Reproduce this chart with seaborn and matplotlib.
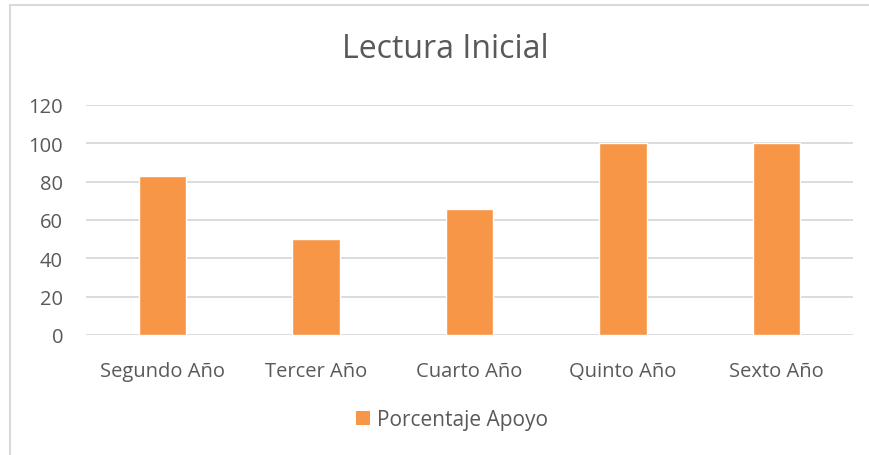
import matplotlib.pyplot as plt
import seaborn as sns
import pandas as pd
from matplotlib.lines import Line2D
from matplotlib.patches import Patch

# Daten
categories = ["Segundo Año", "Tercer Año", "Cuarto Año", "Quinto Año", "Sexto Año"]
values = [83, 50, 66, 100, 100]
y_ticks = [0, 20, 40, 60, 80, 100, 120]
series_name = "Porcentaje Apoyo"
title = "Lectura Inicial"

BAR_COLOR = "#F79646"
TEXT_COLOR = "#595959"
GRID_COLOR = "#D9D9D9"

sns.set_style("white")
plt.rcParams["font.family"] = ["Open Sans", "DejaVu Sans"]

W, H = 870, 456
fig = plt.figure(figsize=(W / 100, H / 100), dpi=100)
ax = fig.add_axes([86 / W, 1 - 336 / H, (853 - 86) / W, (336 - 106) / H])

df = pd.DataFrame({"Año": categories, "Valor": values})
sns.barplot(data=df, x="Año", y="Valor", color=BAR_COLOR, width=0.31,
            saturation=1, ax=ax)

ax.set_ylim(0, 120)
ax.set_yticks(y_ticks)
ax.set_xlim(-0.5, len(categories) - 0.5)
ax.yaxis.grid(True, color=GRID_COLOR, linewidth=1.3)
ax.set_axisbelow(True)
for s in ax.spines.values():
    s.set_visible(False)
ax.tick_params(axis="both", length=0, labelsize=14.5, colors=TEXT_COLOR)
ax.tick_params(axis="x", pad=19)
ax.tick_params(axis="y", pad=16.5)
ax.set_xlabel("")
ax.set_ylabel("")

fig.text(445 / W, 1 - 50 / H, title, ha="center", va="center",
         fontsize=23, color=TEXT_COLOR)

# Legende
handle = Patch(facecolor=BAR_COLOR, edgecolor="none")
fig.legend([handle], [series_name], loc="center",
           bbox_to_anchor=(452 / W, 1 - 421 / H), frameon=False,
           fontsize=15, labelcolor=TEXT_COLOR, handlelength=0.65,
           handleheight=0.65, handletextpad=0.35)

# Rahmen (nur links und oben sichtbar)
fig.add_artist(Line2D([10.5 / W, 10.5 / W], [0, 1 - 6 / H],
                      transform=fig.transFigure, color=GRID_COLOR, lw=1.5))
fig.add_artist(Line2D([10 / W, 1], [1 - 6 / H, 1 - 6 / H],
                      transform=fig.transFigure, color=GRID_COLOR, lw=1.5))

fig.savefig("out.png", dpi=100)
